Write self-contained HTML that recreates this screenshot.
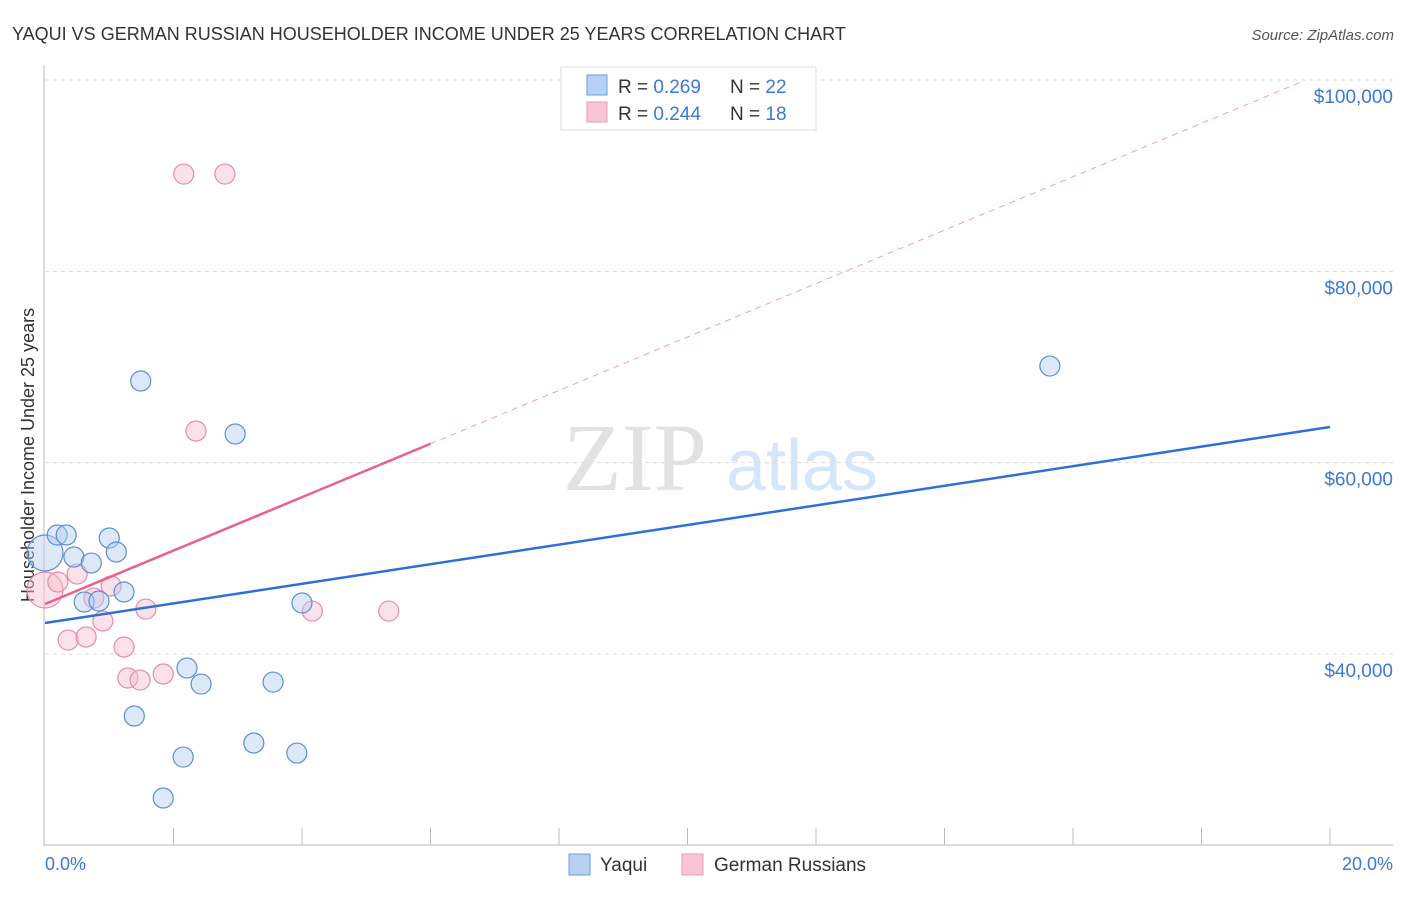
<!DOCTYPE html>
<html><head><meta charset="utf-8"><style>
body{margin:0;background:#fff;font-family:"Liberation Sans",sans-serif}
</style></head><body>
<svg id="c" width="1406" height="892" xmlns="http://www.w3.org/2000/svg">
<text x="12" y="40" font-size="18" fill="#333">YAQUI VS GERMAN RUSSIAN HOUSEHOLDER INCOME UNDER 25 YEARS CORRELATION CHART</text>
<text x="1394" y="40" font-size="15" fill="#555" text-anchor="end" font-style="italic">Source: ZipAtlas.com</text>
<text x="635" y="490" font-size="96" fill="#e2e2e2" font-family="Liberation Serif,serif" text-anchor="middle">ZIP</text>
<text x="802" y="490" font-size="72" fill="#d6e5f7" text-anchor="middle">atlas</text>
<g id="grid"></g>
<line x1="44" y1="65" x2="44" y2="846" stroke="#bbb"/>
<line x1="44" y1="845" x2="1393" y2="845" stroke="#bbb"/>
<text x="34" y="455" font-size="18" fill="#333" text-anchor="middle" transform="rotate(-90 34 455)">Householder Income Under 25 years</text>
<text x="45" y="870" font-size="18" fill="#3b78d8">0.0%</text>
<text x="1393" y="870" font-size="18" fill="#3b78d8" text-anchor="end">20.0%</text>
<g id="marks"></g>
<g>
<rect x="561" y="67" width="255" height="63" fill="#fff" stroke="#ddd"/>
<rect x="587" y="75" width="20" height="20" fill="#b7d1f3" stroke="#6d9be0"/>
<rect x="587" y="102" width="20" height="20" fill="#f9c5d4" stroke="#eb9ab3"/>
<text x="618" y="93" font-size="19" fill="#333">R = <tspan fill="#3b78d8">0.269</tspan></text>
<text x="730" y="93" font-size="19" fill="#333">N = <tspan fill="#3b78d8">22</tspan></text>
<text x="618" y="120" font-size="19" fill="#333">R = <tspan fill="#3b78d8">0.244</tspan></text>
<text x="730" y="120" font-size="19" fill="#333">N = <tspan fill="#3b78d8"> 18</tspan></text>
</g>
<g>
<rect x="569" y="854" width="21" height="21" fill="#b7d1f3" stroke="#6d9be0"/>
<text x="600" y="871" font-size="19" fill="#333">Yaqui</text>
<rect x="682" y="854" width="21" height="21" fill="#f9c5d4" stroke="#eb9ab3"/>
<text x="714" y="871" font-size="19" fill="#333">German Russians</text>
</g>
</svg>
<script>
const yTicks=[40000,60000,80000,100000];
const yTickLabels=["$40,000","$60,000","$80,000","$100,000"];
const xTicks=[0,2,4,6,8,10,12,14,16,18,20];
const yaquiX=[0,0.19,0.33,0.45,0.72,0.61,0.84,1.0,1.11,1.23,1.49,2.96,4.0,2.21,2.43,3.55,1.39,2.15,3.25,3.92,1.84,15.64];
const yaquiY=[50560,52440,52440,50140,49510,45440,45540,52130,50660,46480,68540,63000,45330,38540,36860,37070,33520,29230,30700,29650,24950,70100];
const yaquiR=[18,10,10,10,10,10,10,10,10,10,10,10,10,10,10,10,10,10,10,10,10,10];
const grX=[0,0.2,0.5,0.36,0.64,0.76,0.9,1.03,1.23,1.57,1.29,1.48,1.84,2.16,2.8,2.35,4.16,5.35];
const grY=[46690,47530,48360,41460,41780,45850,43450,47110,40730,44700,37490,37280,37910,90170,90170,63310,44490,44490];
const grR=[18,10,10,10,10,10,10,10,10,10,10,10,10,10,10,10,10,10];
const yaquiTrend=[43240,63730];
const grTrend=[45230,2791];
const NS="http://www.w3.org/2000/svg";
const X=v=>45+v*64.25;
const Y=v=>80+(100000-v)*0.009567;
const grid=document.getElementById('grid'),marks=document.getElementById('marks');
function mk(tag,attrs,parent){const e=document.createElementNS(NS,tag);for(const k in attrs)e.setAttribute(k,attrs[k]);parent.appendChild(e);return e;}
yTicks.forEach((t,i)=>{
  const l=mk('line',{x1:45,x2:1393,y1:Y(t),y2:Y(t),stroke:'#ddd','stroke-dasharray':'4,4'},grid);
  
  
  const tx=mk('text',{x:1393,y:Y(t)+23,'font-size':19,fill:'#3b78d8','text-anchor':'end'},grid);
  tx.textContent=yTickLabels[i];
  
  
});
xTicks.forEach(t=>{
  if(t===0)return;
  const l=mk('line',{x1:X(t),x2:X(t),y1:828,y2:845,stroke:'#bbb'},grid);
  
  
});
function dots(xs,ys,rs,fill,stroke,name){
  xs.forEach((x,i)=>{
    const c=mk('circle',{cx:X(x),cy:Y(ys[i]),r:rs[i],fill:fill,'fill-opacity':0.45,stroke:stroke,'stroke-width':1.2},marks);
    
    
  });
}
dots(grX,grY,grR,'#f6bfd0','#e98aa6','german-russians-point');
dots(yaquiX,yaquiY,yaquiR,'#b3cdf1','#5b8fd6','yaqui-point');
let l=mk('line',{x1:X(0),y1:Y(yaquiTrend[0]),x2:X(20),y2:Y(yaquiTrend[1]),stroke:'#2f6fd6','stroke-width':2.5},marks);


l=mk('line',{x1:X(0),y1:Y(grTrend[0]),x2:X(6),y2:Y(grTrend[0]+6*grTrend[1]),stroke:'#e8628c','stroke-width':2.5},marks);


l=mk('line',{x1:X(6),y1:Y(grTrend[0]+6*grTrend[1]),x2:X(19.6),y2:Y(grTrend[0]+19.6*grTrend[1]),stroke:'#eea0b8','stroke-width':1,'stroke-dasharray':'6,5'},marks);


</script>
</body></html>
